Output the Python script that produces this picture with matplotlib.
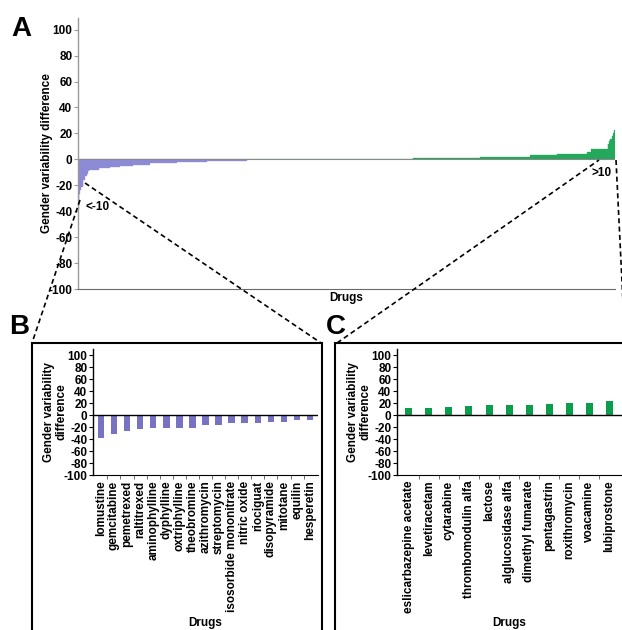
import numpy as np
import matplotlib.pyplot as plt
from matplotlib.lines import Line2D
from matplotlib.patches import Rectangle

plt.rcParams['font.family'] = ['Liberation Sans', 'DejaVu Sans']
plt.rcParams['font.weight'] = 'bold'
plt.rcParams['axes.unicode_minus'] = False

# panel B : drugs with difference < -10
neg_drugs = ['lomustine', 'gemcitabine', 'pemetrexed', 'raltitrexed', 'aminophylline',
             'dyphylline', 'oxtriphylline', 'theobromine', 'azithromycin', 'streptomycin',
             'isosorbide mononitrate', 'nitric oxide', 'riociguat', 'disopyramide',
             'mitotane', 'equilin', 'hesperetin']
neg_values = [-38, -32, -27, -24, -21, -21, -21, -21, -16, -16, -13, -13, -13, -11, -11, -9, -9]

# panel C : drugs with difference > 10
pos_drugs = ['eslicarbazepine acetate', 'levetiracetam', 'cytarabine', 'thrombomodulin alfa',
             'lactose', 'alglucosidase alfa', 'dimethyl fumarate', 'pentagastrin',
             'roxithromycin', 'voacamine', 'lubiprostone']
pos_values = [12, 12, 14, 15, 16, 16, 16, 18, 20, 20, 23]

# panel A : remaining drugs, sorted, as (rounded difference, number of drugs)
mid_levels = [-8, -7, -6, -5, -4, -3, -2, -1, 0, 0.5, 1, 2, 3, 4, 6, 8]
mid_counts = [15, 15, 15, 20, 25, 40, 45, 60, 197, 50, 100, 75, 40, 45, 5, 25]

all_values = np.concatenate([neg_values, np.repeat(mid_levels, mid_counts), pos_values])

W, H = 622, 630
fig = plt.figure(figsize=(W / 100, H / 100), dpi=100)


def box(x0, y0, x1, y1):
    """ pixel box (top-left origin) -> figure fraction rect """
    return [x0 / W, 1 - y1 / H, (x1 - x0) / W, (y1 - y0) / H]


def fp(x, y):
    return x / W, 1 - y / H


# ---- panel A
axA = fig.add_axes(box(78, 18, 615, 289))
xa = np.arange(len(all_values))
cols = np.where(all_values < 0, '#8e8bd6', '#23a85c')
axA.bar(xa, all_values, width=1.0, color=cols, edgecolor=cols, linewidth=0.2)
axA.axhline(0, color='#8a8a8a', lw=0.8)
axA.set_xlim(-0.5, len(all_values) - 0.5)
axA.set_ylim(-100, 109)
axA.set_yticks(np.arange(-100, 101, 20))
axA.set_xticks([])
for s in ['top', 'right']:
    axA.spines[s].set_visible(False)
axA.spines['left'].set_color('#9a9a9a')
axA.spines['bottom'].set_color('#6a6a6a')
axA.spines['left'].set_linewidth(1.0)
axA.spines['bottom'].set_linewidth(0.8)
axA.tick_params(axis='y', colors='#9a9a9a', labelcolor='black', length=3, width=0.8,
                labelsize=8.5, pad=1)
axA.set_ylabel('Gender variability difference', fontsize=8.5, fontweight='bold')
axA.yaxis.set_label_coords(-0.047, 0.5)
axA.set_xlabel('Drugs', fontsize=8.5, fontweight='bold', labelpad=2)
fig.text(*fp(86, 207), '<-10', fontsize=8.5, fontweight='bold', va='center', ha='left')
fig.text(*fp(612, 173), '>10', fontsize=8.5, fontweight='bold', va='center', ha='right')


# ---- panels B and C
def small_panel(rect, names, values, color, width, xmax):
    ax = fig.add_axes(rect)
    x = np.arange(len(names))
    ax.bar(x, values, width=width, color=color)
    ax.axhline(0, color='black', lw=1.0)
    ax.set_xlim(-0.6, xmax)
    ax.set_ylim(-100, 110)
    ax.set_yticks(np.arange(-100, 101, 20))
    ax.set_xticks(x)
    ax.set_xticklabels(names, rotation=90, fontsize=8.5, fontweight='bold')
    ax.set_xticks(x[:-1] + 0.5, minor=True)
    ax.tick_params(axis='x', which='major', length=0, pad=4)
    ax.tick_params(axis='x', which='minor', length=3, width=0.6, color='#555555')
    ax.tick_params(axis='y', length=3, width=0.8, labelsize=8.5, pad=1)
    for s in ['top', 'right']:
        ax.spines[s].set_visible(False)
    ax.spines['left'].set_linewidth(1.0)
    ax.spines['bottom'].set_linewidth(0.8)
    ax.set_ylabel('Gender variability\ndifference', fontsize=8.5, fontweight='bold',
                  linespacing=1.0)
    ax.yaxis.set_label_coords(-0.115, 0.5)
    ax.set_xlabel('Drugs', fontsize=8.5, fontweight='bold')
    ax.xaxis.set_label_coords(0.5, -1.125)
    return ax


axB = small_panel(box(93, 349, 318, 475), neg_drugs, neg_values, '#7773c2', 0.5, 16.6)
axC = small_panel(box(397, 349, 622, 475), pos_drugs, pos_values, '#0a9e4c', 0.35, 10.65)

# frames around B and C
for x0, x1 in [(32, 322), (335, 640)]:
    fig.add_artist(Rectangle(fp(x0, 640), (x1 - x0) / W, (640 - 343) / H,
                             transform=fig.transFigure, fill=False, lw=1.5,
                             edgecolor='black', clip_on=False))

# zoom lines
for (x0, y0), (x1, y1) in [((80, 200), (32, 343)), ((85, 183), (321, 343)),
                           ((337, 343), (599, 160)), ((616, 160), (625, 343))]:
    fig.add_artist(Line2D([x0 / W, x1 / W], [1 - y0 / H, 1 - y1 / H],
                          transform=fig.transFigure, color='black', lw=1.2,
                          ls=(0, (3, 2))))

fig.text(*fp(11, 29), 'A', fontsize=20, fontweight='bold', va='center')
fig.text(*fp(9, 327), 'B', fontsize=20, fontweight='bold', va='center')
fig.text(*fp(326, 327), 'C', fontsize=20, fontweight='bold', va='center')

fig.savefig('out.png', dpi=100)
